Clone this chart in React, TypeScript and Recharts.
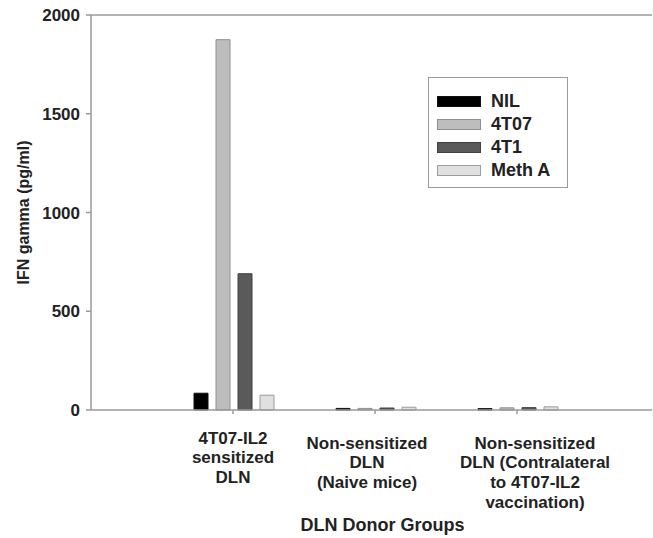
import React from "react";
import { BarChart, Bar, XAxis, YAxis, ReferenceLine } from "recharts";

const groups = [
  "4T07-IL2\nsensitized\nDLN",
  "Non-sensitized\nDLN\n(Naive mice)",
  "Non-sensitized\nDLN (Contralateral\nto 4T07-IL2\nvaccination)",
];
const nilValues = [85, 8, 7];
const t407Values = [1875, 8, 11];
const t41Values = [690, 10, 12];
const methAValues = [75, 14, 16];
const yTicks = [0, 500, 1000, 1500, 2000];

const seriesNames = ["NIL", "4T07", "4T1", "Meth A"];
const fills = ["#000000", "#bdbdbd", "#5a5a5a", "#e0e0e0"];
const strokes = ["#111111", "#8f8f8f", "#404040", "#9c9c9c"];

const data = groups.map((g, i) => ({
  group: g,
  NIL: nilValues[i],
  "4T07": t407Values[i],
  "4T1": t41Values[i],
  "Meth A": methAValues[i],
}));

const FONT = "'Liberation Sans', Arial, sans-serif";
const AXIS = "#9a9a9a";

const labelShift = [
  { dx: 0, dy: 24 },
  { dx: -8, dy: 29 },
  { dx: 18, dy: 29 },
];

const XTick = (props: any) => {
  const { x, y, payload, index } = props;
  const lines = String(payload.value).split("\n");
  const s = labelShift[index] || { dx: 0, dy: 24 };
  return (
    <g>
      {lines.map((ln: string, i: number) => (
        <text
          key={i}
          x={x + s.dx}
          y={y + s.dy + i * 19.7}
          textAnchor="middle"
          dominantBaseline="central"
          fontFamily={FONT}
          fontWeight="bold"
          fontSize={17}
          fill="#222"
        >
          {ln}
        </text>
      ))}
    </g>
  );
};

const LegendBox = () => (
  <div
    style={{
      position: "absolute",
      left: 428,
      top: 77,
      width: 140,
      height: 111,
      boxSizing: "border-box",
      border: "1.5px solid #9a9a9a",
      background: "#fff",
    }}
  >
    {seriesNames.map((n, i) => (
      <div key={n} style={{ position: "absolute", left: 8, top: 23 * i + 16, height: 14, display: "flex", alignItems: "center" }}>
        <div
          style={{
            width: 44,
            height: 11,
            boxSizing: "border-box",
            background: fills[i],
            border: `1px solid ${strokes[i]}`,
          }}
        />
        <span
          style={{
            marginLeft: 10,
            fontFamily: FONT,
            fontWeight: "bold",
            fontSize: 18,
            color: "#222",
            lineHeight: "14px",
          }}
        >
          {n}
        </span>
      </div>
    ))}
  </div>
);

const YLabel = (props: any) => {
  const vb = props.viewBox || { x: 0, y: 15, width: 91, height: 395 };
  const cx = 23;
  const cy = vb.y + vb.height / 2;
  return (
    <text
      x={cx}
      y={cy}
      transform={`rotate(-90, ${cx}, ${cy})`}
      textAnchor="middle"
      dominantBaseline="central"
      fontFamily={FONT}
      fontWeight="bold"
      fontSize={16}
      fill="#222"
    >
      IFN gamma (pg/ml)
    </text>
  );
};

export default function App() {
  return (
    <div style={{ width: 653, height: 538, background: "#fff", position: "relative" }}>
      <style>{`body{margin:0}`}</style>
      <BarChart
        width={653}
        height={538}
        data={data}
        margin={{ top: 15, right: 1, left: 0, bottom: 0 }}
        barCategoryGap={32}
        barGap={8}
      >
        <XAxis
          dataKey="group"
          height={128}
          padding={{ left: 71, right: 64 }}
          stroke={AXIS}
          strokeWidth={1.5}
          tickSize={4}
          tickMargin={0}
          tick={<XTick />}
          interval={0}
          label={{
            value: "DLN Donor Groups",
            position: "insideBottom",
            offset: 7,
            dx: 11,
            fontFamily: FONT,
            fontWeight: "bold",
            fontSize: 18,
            fill: "#222",
          }}
        />
        <YAxis
          width={91}
          domain={[0, 2000]}
          ticks={yTicks}
          stroke={AXIS}
          strokeWidth={1.5}
          tickSize={5}
          tickMargin={6}
          tick={{ fontFamily: FONT, fontWeight: "bold", fontSize: 17, fill: "#222" }}
          label={<YLabel />}
        />
        <ReferenceLine y={2000} stroke={AXIS} strokeWidth={1.5} />
        {seriesNames.map((n, i) => (
          <Bar
            key={n}
            dataKey={n}
            fill={fills[i]}
            stroke={strokes[i]}
            strokeWidth={1}
            isAnimationActive={false}
          />
        ))}
      </BarChart>
      <LegendBox />
    </div>
  );
}
